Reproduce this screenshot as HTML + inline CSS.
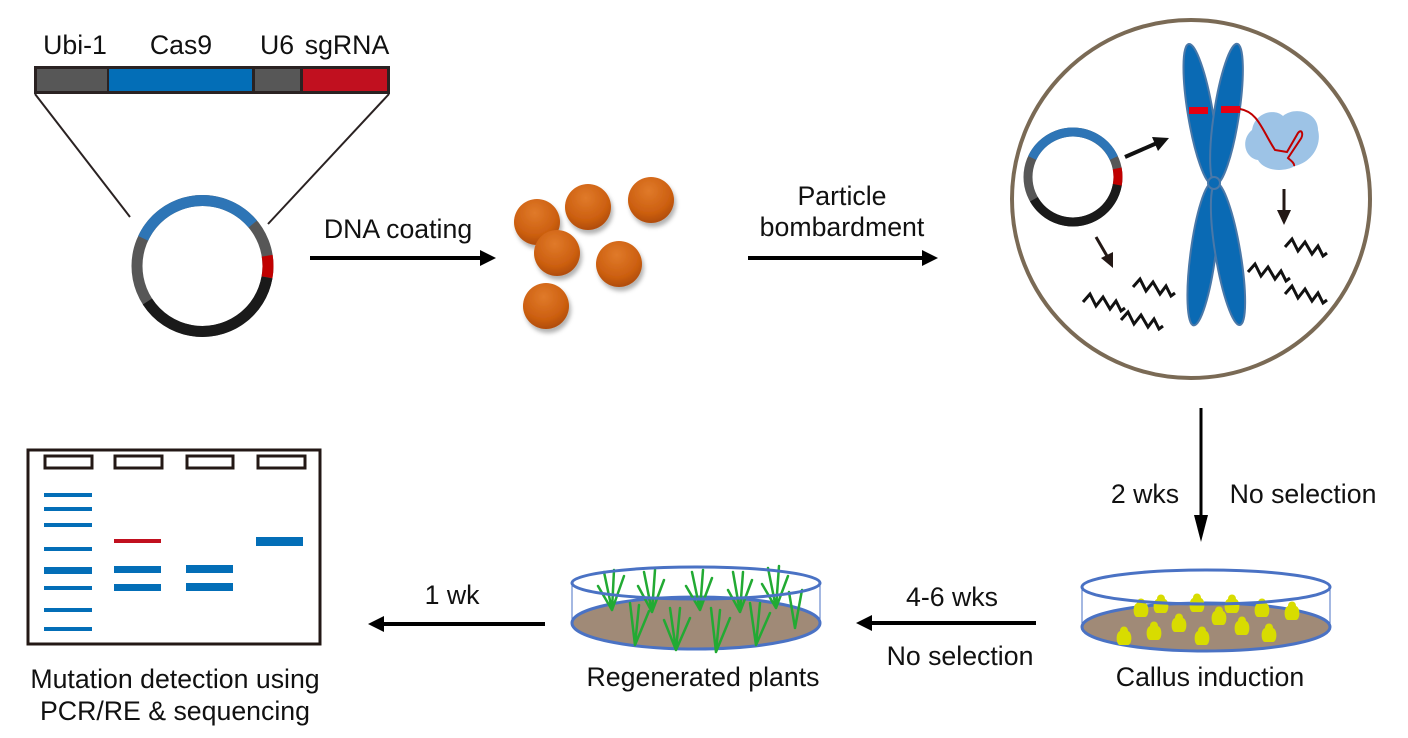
<!DOCTYPE html>
<html><head><meta charset="utf-8"><style>
html,body{margin:0;padding:0;background:#fff;}
svg{display:block;}
text{font-family:"Liberation Sans",Arial,sans-serif;font-size:26.7px;fill:#111;}
</style></head><body>
<svg width="1408" height="738" viewBox="0 0 1408 738" xmlns="http://www.w3.org/2000/svg">
<defs>
<radialGradient id="ball" cx="0.45" cy="0.3" r="0.7">
<stop offset="0" stop-color="#e07a2a"/><stop offset="0.7" stop-color="#cc5f10"/><stop offset="1" stop-color="#b04c08"/>
</radialGradient>
<filter id="sh" x="-30%" y="-30%" width="160%" height="160%"><feDropShadow dx="2" dy="4" stdDeviation="2" flood-color="#000" flood-opacity="0.3"/></filter>
</defs>

<!-- construct bar -->
<text x="75" y="54" text-anchor="middle">Ubi-1</text>
<text x="181" y="54" text-anchor="middle">Cas9</text>
<text x="277" y="54" text-anchor="middle">U6</text>
<text x="347" y="54" text-anchor="middle">sgRNA</text>
<rect x="34" y="66" width="356" height="28" fill="#2a2222"/>
<rect x="37" y="69" width="70" height="22" fill="#575757"/>
<rect x="109" y="69" width="143" height="22" fill="#036eb7"/>
<rect x="255" y="69" width="45" height="22" fill="#575757"/>
<rect x="303" y="69" width="84" height="22" fill="#c1101f"/>
<line x1="35" y1="94" x2="130" y2="217" stroke="#2a2222" stroke-width="2"/>
<line x1="389" y1="94" x2="268" y2="224" stroke="#2a2222" stroke-width="2"/>

<!-- plasmid 1 -->
<g transform="translate(202.5,266)" fill="none" stroke-width="11">
<circle r="65.5" stroke="#575757"/>
<circle r="65.5" stroke="#2e75b6" stroke-dasharray="131.6 400" transform="rotate(205)"/>
<circle r="65.5" stroke="#c00000" stroke-dasharray="21.7 400" transform="rotate(-9)"/>
<circle r="65.5" stroke="#1a1a1a" stroke-dasharray="156.8 400" transform="rotate(10)"/>
</g>

<!-- arrow 1 -->
<line x1="310" y1="258" x2="482" y2="258" stroke="#000" stroke-width="4"/>
<polygon points="496,258 480,250 480,266" fill="#000"/>
<text x="398" y="238" text-anchor="middle">DNA coating</text>

<!-- balls -->
<g fill="url(#ball)" filter="url(#sh)">
<circle cx="537" cy="222" r="23"/><circle cx="588" cy="207" r="23"/><circle cx="651" cy="200" r="23"/>
<circle cx="557" cy="253" r="23"/><circle cx="619" cy="264" r="23"/><circle cx="546" cy="306" r="23"/>
</g>

<!-- arrow 2 -->
<line x1="748" y1="258" x2="924" y2="258" stroke="#000" stroke-width="4"/>
<polygon points="938,258 922,250 922,266" fill="#000"/>
<text x="842" y="205" text-anchor="middle">Particle</text>
<text x="842" y="236" text-anchor="middle">bombardment</text>

<!-- cell -->
<circle cx="1191" cy="199" r="179" fill="none" stroke="#7a6a55" stroke-width="4"/>
<g transform="translate(1073,177)" fill="none" stroke-width="9">
<circle r="45" stroke="#575757"/>
<circle r="45" stroke="#2e75b6" stroke-dasharray="102 300" transform="rotate(205)"/>
<circle r="45" stroke="#c00000" stroke-dasharray="17 300" transform="rotate(-11)"/>
<circle r="45" stroke="#1a1a1a" stroke-dasharray="110 300" transform="rotate(10)"/>
</g>
<line x1="1125" y1="157" x2="1157" y2="143" stroke="#111" stroke-width="4"/>
<polygon points="1169,138 1152,137 1158,151" fill="#111"/>
<!-- chromosome -->
<g fill="#0a6ab4" stroke="#4a78a8" stroke-width="2">
<ellipse cx="1200.5" cy="114" rx="71" ry="12.5" transform="rotate(80.5 1200.5 114)"/>
<ellipse cx="1226.5" cy="114" rx="71" ry="12.5" transform="rotate(98.7 1226.5 114)"/>
<ellipse cx="1203" cy="254" rx="72" ry="12.5" transform="rotate(97.5 1203 254)"/>
<ellipse cx="1228" cy="254" rx="72" ry="12.5" transform="rotate(80.5 1228 254)"/>
<circle cx="1214" cy="183" r="6"/>
</g>
<rect x="1189" y="107" width="19" height="7" fill="#e60012"/>
<rect x="1221" y="106" width="19" height="7" fill="#e60012"/>
<path d="M1252,130 C1255,112 1275,108 1283,116 C1295,106 1318,112 1318,130 C1322,145 1312,162 1295,166 C1285,172 1265,172 1258,160 C1245,158 1240,140 1252,130 Z" fill="#9dc3e6"/>
<path d="M1240,109 C1258,112 1262,130 1275,150 L1287,152 L1298,133 C1302,128 1304,135 1300,140 L1288,158 C1290,160 1295,163 1294,166" fill="none" stroke="#c00000" stroke-width="2"/>
<line x1="1284" y1="189" x2="1284" y2="212" stroke="#231815" stroke-width="3"/>
<polygon points="1284,225 1277,210 1291,210" fill="#231815"/>
<line x1="1096" y1="237" x2="1107" y2="256" stroke="#231815" stroke-width="3"/>
<polygon points="1113,268 1101,258 1113,252" fill="#231815"/>
<g fill="none" stroke="#111" stroke-width="3" stroke-linejoin="miter">
<path d="M1083,302 l7,-8 l6,12 l7,-9 l7,12 l6,-8 l5,10 l4,-3"/>
<path d="M1133,287 l7,-8 l6,12 l7,-9 l7,12 l6,-8 l5,10 l4,-3"/>
<path d="M1121,320 l7,-8 l6,12 l7,-9 l7,12 l6,-8 l5,10 l4,-3"/>
<path d="M1285,247 l7,-8 l6,12 l7,-9 l7,12 l6,-8 l5,10 l4,-3"/>
<path d="M1248,272 l7,-8 l6,12 l7,-9 l7,12 l6,-8 l5,10 l4,-3"/>
<path d="M1285,294 l7,-8 l6,12 l7,-9 l7,12 l6,-8 l5,10 l4,-3"/>
</g>

<!-- vertical arrow -->
<line x1="1201" y1="408" x2="1201" y2="520" stroke="#000" stroke-width="3"/>
<polygon points="1201,542 1194,515 1208,515" fill="#000"/>
<text x="1145" y="503" text-anchor="middle">2 wks</text>
<text x="1303" y="503" text-anchor="middle">No selection</text>

<!-- callus dish -->
<ellipse cx="1206" cy="627" rx="124" ry="24" fill="#a08a77" stroke="#4a72c4" stroke-width="3"/>
<line x1="1082" y1="587" x2="1082" y2="627" stroke="#4a72c4" stroke-width="1"/>
<line x1="1330" y1="587" x2="1330" y2="627" stroke="#4a72c4" stroke-width="1"/>
<g fill="#d8dc00">
<path d="M1120,645 c-4,0 -5,-12 0,-14 c0,-6 8,-6 8,0 c5,2 4,14 0,14 z"/>
<path d="M1150,640 c-4,0 -5,-12 0,-14 c0,-6 8,-6 8,0 c5,2 4,14 0,14 z"/>
<path d="M1137,617 c-4,0 -5,-12 0,-14 c0,-6 8,-6 8,0 c5,2 4,14 0,14 z"/>
<path d="M1157,613 c-4,0 -5,-12 0,-14 c0,-6 8,-6 8,0 c5,2 4,14 0,14 z"/>
<path d="M1193,612 c-4,0 -5,-12 0,-14 c0,-6 8,-6 8,0 c5,2 4,14 0,14 z"/>
<path d="M1228,613 c-4,0 -5,-12 0,-14 c0,-6 8,-6 8,0 c5,2 4,14 0,14 z"/>
<path d="M1258,617 c-4,0 -5,-12 0,-14 c0,-6 8,-6 8,0 c5,2 4,14 0,14 z"/>
<path d="M1288,620 c-4,0 -5,-12 0,-14 c0,-6 8,-6 8,0 c5,2 4,14 0,14 z"/>
<path d="M1175,632 c-4,0 -5,-12 0,-14 c0,-6 8,-6 8,0 c5,2 4,14 0,14 z"/>
<path d="M1215,625 c-4,0 -5,-12 0,-14 c0,-6 8,-6 8,0 c5,2 4,14 0,14 z"/>
<path d="M1238,635 c-4,0 -5,-12 0,-14 c0,-6 8,-6 8,0 c5,2 4,14 0,14 z"/>
<path d="M1198,645 c-4,0 -5,-12 0,-14 c0,-6 8,-6 8,0 c5,2 4,14 0,14 z"/>
<path d="M1265,642 c-4,0 -5,-12 0,-14 c0,-6 8,-6 8,0 c5,2 4,14 0,14 z"/>
</g>
<ellipse cx="1206" cy="587" rx="124" ry="17" fill="none" stroke="#4a72c4" stroke-width="3"/>
<text x="1210" y="686" text-anchor="middle">Callus induction</text>

<!-- arrow 4-6 -->
<line x1="870" y1="623" x2="1036" y2="623" stroke="#000" stroke-width="4"/>
<polygon points="856,623 872,615 872,631" fill="#000"/>
<text x="952" y="606" text-anchor="middle">4-6 wks</text>
<text x="960" y="665" text-anchor="middle">No selection</text>

<!-- plants dish -->
<ellipse cx="696" cy="623" rx="124" ry="26" fill="#a08a77" stroke="#4a72c4" stroke-width="3"/>
<line x1="572" y1="583" x2="572" y2="623" stroke="#4a72c4" stroke-width="1"/>
<line x1="820" y1="583" x2="820" y2="623" stroke="#4a72c4" stroke-width="1"/>
<g fill="none" stroke="#22aa33" stroke-width="2.5" stroke-linecap="round">
<path d="M612,610 l-8,-38 M612,610 l2,-40 M612,610 l12,-34 M612,610 l-14,-24"/>
<path d="M652,612 l-8,-40 M652,612 l3,-42 M652,612 l12,-32 M652,612 l-14,-26"/>
<path d="M700,610 l-8,-38 M700,610 l3,-40 M700,610 l12,-32 M700,610 l-14,-24"/>
<path d="M740,612 l-7,-40 M740,612 l3,-40 M740,612 l12,-32 M740,612 l-12,-22"/>
<path d="M776,608 l-8,-40 M776,608 l3,-42 M776,608 l12,-32 M776,608 l-14,-24"/>
<path d="M635,645 l-5,-42 M635,645 l4,-40 M635,645 l14,-34"/>
<path d="M676,650 l-6,-42 M676,650 l4,-42 M676,650 l14,-32 M676,650 l-12,-30"/>
<path d="M716,652 l-5,-44 M716,652 l4,-42 M716,652 l14,-34"/>
<path d="M756,645 l-6,-42 M756,645 l4,-42 M756,645 l14,-32"/>
<path d="M795,628 l-6,-36 M795,628 l7,-38"/>
</g>
<ellipse cx="696" cy="583" rx="124" ry="16" fill="none" stroke="#4a72c4" stroke-width="3"/>
<text x="703" y="686" text-anchor="middle">Regenerated plants</text>

<!-- arrow 1wk -->
<line x1="382" y1="624" x2="545" y2="624" stroke="#000" stroke-width="4"/>
<polygon points="368,624 384,616 384,632" fill="#000"/>
<text x="452" y="604" text-anchor="middle">1 wk</text>

<!-- gel -->
<rect x="28" y="450" width="292" height="194" fill="#fff" stroke="#231815" stroke-width="3"/>
<g fill="none" stroke="#231815" stroke-width="3">
<rect x="45" y="456" width="47" height="12"/><rect x="115" y="456" width="47" height="12"/>
<rect x="187" y="456" width="46" height="12"/><rect x="258" y="456" width="47" height="12"/>
</g>
<g fill="#036eb7">
<rect x="44" y="493" width="48" height="4"/><rect x="44" y="507" width="48" height="4"/>
<rect x="44" y="523" width="48" height="4"/><rect x="44" y="547" width="48" height="4"/>
<rect x="44" y="567" width="48" height="7"/><rect x="44" y="586" width="48" height="4"/>
<rect x="44" y="608" width="48" height="4"/><rect x="44" y="627" width="48" height="4"/>
<rect x="114" y="566" width="47" height="7"/><rect x="114" y="584" width="47" height="7"/>
<rect x="186" y="565" width="47" height="8"/><rect x="186" y="583" width="47" height="8"/>
<rect x="256" y="537" width="47" height="9"/>
</g>
<rect x="114" y="539" width="47" height="4" fill="#c1101f"/>
<text x="175" y="688" text-anchor="middle">Mutation detection using</text>
<text x="175" y="720" text-anchor="middle">PCR/RE &amp; sequencing</text>
</svg>
</body></html>
